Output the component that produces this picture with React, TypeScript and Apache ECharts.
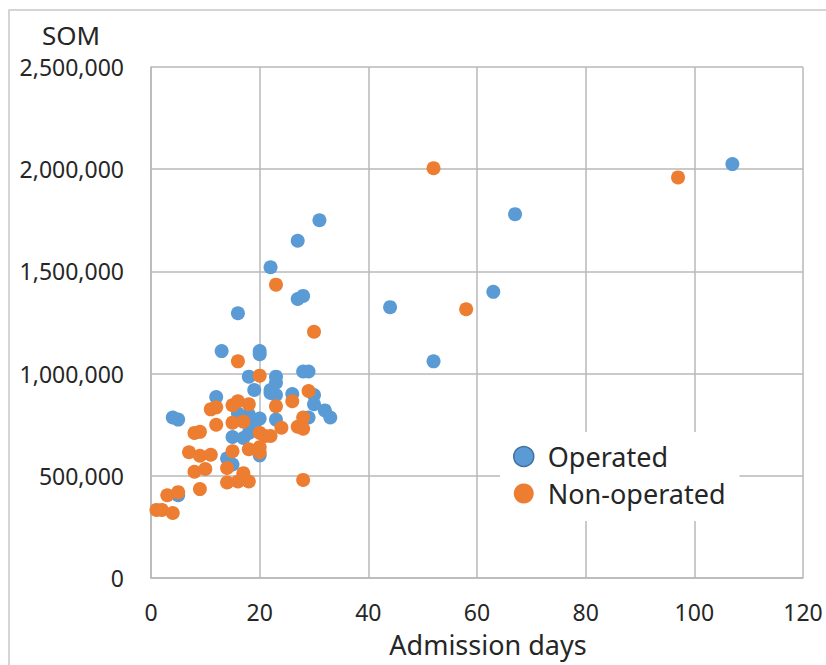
import React, { useEffect, useRef } from "react";
import * as echarts from "echarts";

const xTicks = [0, 20, 40, 60, 80, 100, 120];
const yTicks = [0, 500000, 1000000, 1500000, 2000000, 2500000];

const seriesNames = ["Operated", "Non-operated"];

const operated: [number, number][] = [
  [107, 2025000], [67, 1780000], [63, 1400000], [52, 1060000], [44, 1325000],
  [31, 1750000], [27, 1650000], [22, 1520000], [27, 1365000], [28, 1380000],
  [16, 1295000], [13, 1110000], [20, 1110000], [20, 1095000], [18, 985000],
  [23, 985000], [23, 955000], [19, 920000], [22, 920000], [22, 905000],
  [23, 895000], [28, 1010000], [29, 1010000], [26, 900000], [30, 895000],
  [30, 850000], [32, 820000], [33, 785000], [29, 785000], [12, 885000],
  [4, 785000], [5, 775000], [20, 780000], [23, 775000], [16, 805000],
  [18, 800000], [15, 690000], [17, 685000], [18, 710000], [19, 725000],
  [19, 750000], [20, 600000], [14, 585000], [15, 555000], [5, 405000],
];

const nonOperated: [number, number][] = [
  [52, 2005000], [97, 1960000], [58, 1315000], [30, 1205000], [23, 1435000],
  [28, 480000], [16, 1060000], [20, 990000], [29, 915000], [26, 865000],
  [23, 840000], [11, 825000], [12, 835000], [15, 845000], [16, 865000],
  [18, 850000], [28, 785000], [27, 740000], [28, 730000], [24, 735000],
  [20, 710000], [21, 695000], [22, 695000], [17, 765000], [15, 760000],
  [12, 750000], [8, 710000], [9, 715000], [15, 620000], [18, 630000],
  [20, 640000], [20, 615000], [7, 615000], [9, 598000], [11, 603000],
  [8, 520000], [10, 533000], [14, 538000], [17, 513000], [14, 467000],
  [16, 472000], [18, 472000], [9, 435000], [3, 405000], [5, 420000],
  [1, 333000], [2, 333000], [4, 318000],
];

const FONT = "'Noto Sans', sans-serif";
const TEXT = "#262626";
const GRID = "#b8b8b8";

export default function App() {
  const ref = useRef<HTMLDivElement>(null);
  useEffect(() => {
    if (!ref.current) return;
    const chart = echarts.init(ref.current, undefined, { renderer: "svg" });
    chart.setOption({
      animation: false,
      backgroundColor: "#ffffff",
      textStyle: { fontFamily: FONT },
      grid: { left: 151, right: 23, top: 67, bottom: 87, containLabel: false },
      graphic: [
        {
          type: "rect",
          shape: { x: 9, y: 10, width: 840, height: 680 },
          style: { fill: "none", stroke: "#c8c8c8", lineWidth: 1.5 },
          silent: true,
          z: -1,
        },
        {
          type: "text",
          x: 71,
          y: 35,
          style: {
            text: "SOM",
            fontFamily: FONT,
            fontSize: 26,
            lineHeight: 26,
            fill: TEXT,
            textAlign: "center",
            textVerticalAlign: "middle",
          },
        },
      ],
      xAxis: {
        type: "value",
        min: xTicks[0],
        max: xTicks[xTicks.length - 1],
        interval: xTicks[1] - xTicks[0],
        name: "Admission days",
        nameLocation: "middle",
        nameGap: 53,
        nameTextStyle: {
          fontSize: 27,
          color: TEXT,
          fontFamily: FONT,
          padding: [0, 0, 0, 22],
        },
        axisLine: { show: true, lineStyle: { color: GRID, width: 1.5 } },
        axisTick: { show: false },
        axisLabel: { fontSize: 23, color: TEXT, margin: 22, fontFamily: FONT },
        splitLine: { show: true, lineStyle: { color: GRID, width: 1.5 } },
      },
      yAxis: {
        type: "value",
        min: yTicks[0],
        max: yTicks[yTicks.length - 1],
        interval: yTicks[1] - yTicks[0],
        axisLine: { show: true, lineStyle: { color: GRID, width: 1.5 } },
        axisTick: { show: false },
        axisLabel: {
          fontSize: 23,
          lineHeight: 23,
          color: TEXT,
          margin: 27,
          fontFamily: FONT,
          formatter: (v: number) => v.toLocaleString("en-US"),
        },
        splitLine: { show: true, lineStyle: { color: GRID, width: 1.5 } },
      },
      legend: {
        orient: "vertical",
        left: 500,
        top: 432,
        backgroundColor: "#ffffff",
        padding: [11, 14, 14, 13],
        itemWidth: 20,
        itemHeight: 20,
        itemGap: 10,
        icon: "circle",
        textStyle: {
          fontSize: 27,
          color: TEXT,
          fontFamily: FONT,
          padding: [0, 0, 0, 9],
        },
        data: [
          { name: seriesNames[0], itemStyle: { borderColor: "#41719c", borderWidth: 1.5 } },
          { name: seriesNames[1] },
        ],
      },
      series: [
        {
          name: seriesNames[0],
          type: "scatter",
          symbol: "circle",
          symbolSize: 14,
          itemStyle: { color: "#5b9bd5", opacity: 1 },
          data: operated,
        },
        {
          name: seriesNames[1],
          type: "scatter",
          symbol: "circle",
          symbolSize: 14,
          itemStyle: { color: "#ed7d31", opacity: 1 },
          data: nonOperated,
        },
      ],
    });
    return () => chart.dispose();
  }, []);
  return (
    <div
      ref={ref}
      style={{ position: "absolute", left: 0, top: 0, width: 826, height: 665 }}
    />
  );
}
